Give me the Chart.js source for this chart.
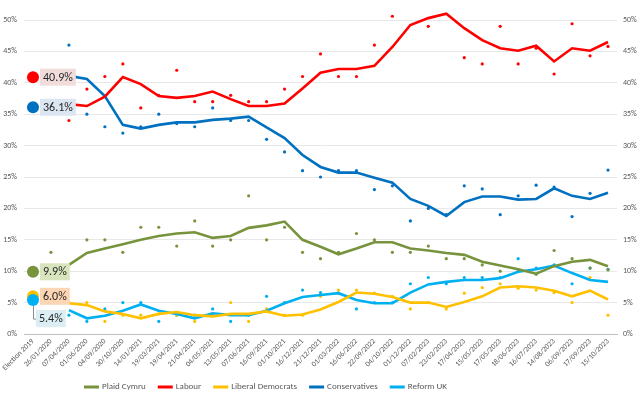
<!DOCTYPE html>
<html>
<head>
<meta charset="utf-8">
<script src="https://cdn.jsdelivr.net/npm/chart.js@4/dist/chart.umd.min.js"></script>
<style>
  html, body { margin: 0; padding: 0; background: #fff; }
  #chart { display: block; }
</style>
</head>
<body>
<canvas id="chart" width="640" height="394"></canvas>
<script>
// poll dates (first entry is the 2019 result)
var labels = ['Election 2019', '26/01/2020', '07/04/2020', '01/06/2020', '04/09/2020', '30/10/2020',
  '14/01/2021', '19/03/2021', '19/04/2021', '21/04/2021', '04/05/2021', '13/05/2021', '07/06/2021',
  '16/09/2021', '01/10/2021', '16/12/2021', '21/12/2021', '01/03/2022', '16/06/2022', '22/09/2022',
  '04/10/2022', '01/12/2022', '07/02/2023', '23/02/2023', '17/04/2023', '15/05/2023', '17/05/2023',
  '18/06/2023', '16/07/2023', '14/08/2023', '06/09/2023', '17/09/2023', '15/10/2023'];

var partyNames = ['Plaid Cymru', 'Labour', 'Liberal Democrats', 'Conservatives', 'Reform UK'];
var partyColours = ['#77933C', '#FF0000', '#FFC000', '#0070C0', '#00B0F0'];
var labelBoxColours = ['#D7E4BD', '#F2DCDB', '#FCD5B5', '#DCE6F2', '#DAEEF3'];

// 2019 general election result
var election2019 = [9.9, 40.9, 6.0, 36.1, 5.4];

// rolling average lines
var plaidTrend = [null, null, 11.0, 12.9, 13.6, 14.3, 15.0, 15.6, 16.0, 16.2, 15.3, 15.6, 16.9, 17.3, 17.9, 15.0, 13.9, 12.7, 13.6, 14.6, 14.6, 13.6, 13.3, 12.9, 12.6, 11.5, 10.9, 10.3, 9.6, 10.8, 11.5, 11.8, 10.8];
var labourTrend = [null, null, 36.6, 36.3, 37.8, 40.9, 39.8, 37.9, 37.6, 37.9, 38.6, 37.4, 36.3, 36.3, 36.7, 39.1, 41.6, 42.2, 42.2, 42.7, 45.7, 49.2, 50.3, 51.0, 48.7, 46.8, 45.5, 45.1, 45.9, 43.4, 45.5, 45.1, 46.5];
var libdemTrend = [null, null, 4.9, 4.6, 3.6, 3.2, 2.5, 3.2, 3.5, 3.0, 2.8, 3.2, 3.2, 3.6, 2.9, 3.1, 3.9, 5.1, 6.6, 6.4, 5.9, 5.0, 5.0, 4.3, 5.1, 6.0, 7.4, 7.6, 7.4, 6.9, 6.0, 6.9, 5.5];
var conTrend = [null, null, 41.1, 40.6, 37.9, 33.3, 32.7, 33.3, 33.7, 33.7, 34.1, 34.3, 34.6, 32.9, 31.2, 28.5, 26.6, 25.7, 25.7, 24.9, 24.1, 21.5, 20.4, 18.8, 21.0, 21.9, 21.9, 21.4, 21.5, 23.2, 22.0, 21.5, 22.5];
var reformTrend = [null, null, 3.8, 2.5, 2.9, 3.7, 4.7, 3.7, 3.2, 2.5, 3.3, 3.0, 3.0, 3.7, 4.9, 5.9, 6.2, 6.5, 5.4, 4.9, 4.9, 6.6, 7.9, 8.3, 8.6, 8.6, 8.9, 9.9, 10.3, 10.9, 9.7, 8.6, 8.3];

// individual polls
var plaidPolls = [null, 13, null, 15, 15, 13, 17, 17, 14, 18, 14, 15, 22, 15, 17, 13, 12, 13, 16, 15, 13, 13, 14, 12, 12, 11, 10, 10, 9.5, 13.3, 12, 10.5, 10.2];
var labourPolls = [null, null, 34, 39, 41, 43, 36, 38, 42, 37, 37, 38, 37, 37, 39, 41, 44.6, 41, 41, 46, 50.6, 51, 49, 53, 44, 43, 49, 43, 45.5, 41.4, 49.4, 44.3, 45.8];
var libdemPolls = [null, null, 5, 5, 2, 3, 3, 3.2, 3, 2, 3, 5, 2, 4, 3, 3, 6, 7, 7, 6.5, 6, 4, 5, 4, 6.5, 7.4, 8, 7.3, 7, 6.6, 5, 9, 3];
var conPolls = [null, null, 46, 35, 33, 32, 33, 35, 33.5, 33, 36, 34, 34, 31, 29, 26, 25, 26, 26, 23, 23.6, 18, 20, 19, 23.6, 23.1, 19, 22, 23.7, 23.4, 18.7, 22.4, 26.1];
var reformPolls = [null, null, 3, 2, 4, 5, 5, 2, 3, 3, 4, 2, 3, 6, 5, 7, 6.6, 6.5, 4, 5, 5, 8, 9, 8, 9, 9, 9, 12, 10.5, 11, 8, 10.5, 10.3];

var trends = [plaidTrend, labourTrend, libdemTrend, conTrend, reformTrend];
var polls = [plaidPolls, labourPolls, libdemPolls, conPolls, reformPolls];

var FONT = "'Carlito', 'Liberation Sans', Arial, sans-serif";

var datasets = [];
for (var p = 0; p < partyNames.length; p++) {
  datasets.push({
    label: partyNames[p],
    kind: 'trend',
    data: trends[p],
    borderColor: partyColours[p],
    backgroundColor: partyColours[p],
    borderWidth: 2.6,
    pointRadius: 0,
    tension: 0,
    clip: false,
    order: 2
  });
}
for (var p = 0; p < partyNames.length; p++) {
  datasets.push({
    label: partyNames[p] + ' polls',
    kind: 'poll',
    data: polls[p],
    showLine: false,
    pointRadius: 1.6,
    pointBorderWidth: 0,
    pointBackgroundColor: partyColours[p],
    clip: false,
    order: 3
  });
}
for (var p = 0; p < partyNames.length; p++) {
  var d = labels.map(function (l, i) { return i === 0 ? election2019[p] : null; });
  datasets.push({
    label: partyNames[p] + ' 2019',
    kind: 'election',
    party: p,
    data: d,
    showLine: false,
    pointRadius: 6,
    pointBorderWidth: 0,
    pointBackgroundColor: partyColours[p],
    clip: false,
    order: 1 - p * 0.1
  });
}

// boxed value labels next to the 2019 markers
var electionLabels = {
  id: 'electionLabels',
  afterDatasetsDraw: function (chart) {
    var ctx = chart.ctx;
    ctx.save();
    ctx.font = '12px ' + FONT;
    ctx.textBaseline = 'middle';
    chart.data.datasets.forEach(function (ds, i) {
      if (ds.kind !== 'election') return;
      var pt = chart.getDatasetMeta(i).data[0];
      var txt = ds.data[0].toFixed(1) + '%';
      var w = ctx.measureText(txt).width + 6;
      var h = 17;
      var bx = pt.x + 7, cy = pt.y;
      if (ds.party === 4) {
        // leader line down to a label below the marker
        bx = pt.x + 3;
        cy = pt.y + 18.5;
        ctx.strokeStyle = '#8C8C8C';
        ctx.lineWidth = 1;
        ctx.beginPath();
        ctx.moveTo(pt.x + 0.5, pt.y + 6);
        ctx.lineTo(pt.x + 0.5, cy + 0.5);
        ctx.lineTo(bx, cy + 0.5);
        ctx.stroke();
      }
      ctx.fillStyle = labelBoxColours[ds.party];
      ctx.fillRect(bx, cy - h / 2, w, h);
      ctx.fillStyle = '#262626';
      ctx.fillText(txt, bx + 3, cy + 0.5);
    });
    ctx.restore();
  }
};

// legend for the trend lines only
var lineLegend = {
  id: 'lineLegend',
  afterDraw: function (chart) {
    var ctx = chart.ctx;
    ctx.save();
    ctx.font = '9px ' + FONT;
    ctx.textBaseline = 'middle';
    var x = 84, y = 387;
    chart.data.datasets.forEach(function (ds) {
      if (ds.kind !== 'trend') return;
      ctx.fillStyle = ds.borderColor;
      ctx.fillRect(x, y - 1.5, 15, 3);
      ctx.fillStyle = '#595959';
      ctx.fillText(ds.label, x + 18, y);
      x += 18 + ctx.measureText(ds.label).width + 12;
    });
    ctx.restore();
  }
};

var pct = function (v) { return v + '%'; };

new Chart(document.getElementById('chart'), {
  type: 'line',
  data: { labels: labels, datasets: datasets },
  plugins: [electionLabels, lineLegend],
  options: {
    responsive: false,
    animation: false,
    layout: { padding: { top: 20, left: 0, right: 0, bottom: 0 } },
    plugins: { legend: { display: false }, tooltip: { enabled: false } },
    scales: {
      x: {
        offset: true,
        grid: { display: false, drawTicks: false },
        border: { display: true, color: '#BFBFBF', width: 1 },
        ticks: {
          autoSkip: false, minRotation: 45, maxRotation: 45, padding: 3,
          color: '#595959', font: { family: FONT, size: 7.5 }
        },
        afterFit: function (s) { s.height = 60; }
      },
      y: {
        position: 'left',
        min: 0, max: 50,
        grid: { color: '#E8E8E8', lineWidth: 1, drawTicks: false },
        border: { display: false },
        ticks: { stepSize: 5, padding: 7, color: '#595959', font: { family: FONT, size: 8 }, callback: pct },
        afterFit: function (s) { s.width = 24; }
      },
      y2: {
        position: 'right',
        min: 0, max: 50,
        grid: { display: false, drawTicks: false },
        border: { display: false },
        ticks: { stepSize: 5, padding: 6, color: '#595959', font: { family: FONT, size: 8 }, callback: pct },
        afterFit: function (s) { s.width = 23; }
      }
    }
  }
});
</script>
</body>
</html>
